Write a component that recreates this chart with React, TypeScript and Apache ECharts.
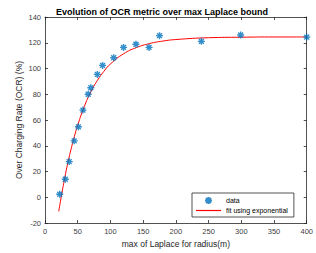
import React, { useEffect, useRef } from "react";
import * as echarts from "echarts";

const dataX = [22.5, 31, 37, 44.6, 51, 58, 66, 70, 80, 88, 105, 120, 139, 159, 175, 239, 299, 400];
const dataY = [2.3, 14, 27.7, 43.8, 54.7, 67.7, 80, 85, 95.4, 102.4, 108.4, 116.4, 118.8, 116.4, 125.5, 121.1, 126, 124.4];

const fitX = [21, 25, 30, 35, 40, 45, 50, 60, 70, 80, 90, 100, 120, 140, 160, 180, 200, 250, 300, 350, 400];
const fitY = [-11, 0.9, 14.6, 26.9, 37.7, 47.4, 56, 70.4, 81.8, 90.7, 97.8, 103.5, 111.4, 116.3, 119.4, 121.3, 122.5, 123.9, 124.3, 124.5, 124.5];

const TITLE = "Evolution of OCR metric over max Laplace bound";
const X_NAME = "max of Laplace for radius(m)";
const Y_NAME = "Over Charging Rate (OCR) (%)";

const STAR = "path://M0,-1L0,1M-1,0L1,0M-0.7,-0.7L0.7,0.7M-0.7,0.7L0.7,-0.7";
const LINE_ICON = "path://M0,0L25,0L25,1.2L0,1.2Z";

export default function App() {
  const ref = useRef<HTMLDivElement>(null);
  useEffect(() => {
    const chart = echarts.init(ref.current!, null, { renderer: "svg" });
    const font = "Liberation Sans, Arial, sans-serif";
    const axisCol = "#262626";
    const common = {
      axisLine: { show: true, onZero: false, lineStyle: { color: axisCol, width: 0.8 } },
      axisTick: { show: true, inside: true, length: 3, lineStyle: { color: axisCol, width: 0.8 } },
      splitLine: { show: false },
    };
    chart.setOption({
      animation: false,
      backgroundColor: "#fff",
      textStyle: { fontFamily: font },
      title: {
        text: TITLE,
        left: 51,
        top: 2,
        textStyle: { fontSize: 9, fontWeight: "bold", color: "#000", fontFamily: font },
      },
      grid: { left: 45, right: 5, top: 17, bottom: 30 },
      xAxis: [
        {
          type: "value", min: 0, max: 400, interval: 50, position: "bottom",
          name: X_NAME, nameLocation: "middle", nameGap: 16, nameMoveOverlap: false,
          nameTextStyle: { fontSize: 8.5, color: axisCol, fontFamily: font },
          axisLabel: { fontSize: 7.5, color: "#404040", margin: 4, fontFamily: font },
          ...common,
        },
        {
          type: "value", min: 0, max: 400, interval: 50, position: "top",
          axisLabel: { show: false }, ...common,
        },
      ],
      yAxis: [
        {
          type: "value", min: -20, max: 140, interval: 20, position: "left",
          name: Y_NAME, nameLocation: "middle", nameGap: 22, nameMoveOverlap: false,
          nameTextStyle: { fontSize: 8.5, color: axisCol, fontFamily: font },
          axisLabel: { fontSize: 7.5, color: "#404040", margin: 4, fontFamily: font },
          ...common,
        },
        {
          type: "value", min: -20, max: 140, interval: 20, position: "right",
          axisLabel: { show: false }, ...common,
        },
      ],
      legend: {
        left: 192, top: 193, orient: "vertical",
        itemWidth: 25, itemHeight: 7, itemGap: 2,
        padding: [3, 6, 3, 4],
        borderColor: axisCol, borderWidth: 0.8, backgroundColor: "#fff",
        symbolKeepAspect: true,
        textStyle: { fontSize: 7, color: "#000", fontFamily: font },
        data: [
          { name: "data", icon: STAR },
          { name: "fit using exponential", icon: LINE_ICON },
        ],
      },
      series: [
        {
          name: "fit using exponential",
          type: "line",
          data: fitX.map((x, i) => [x, fitY[i]]),
          symbol: "none",
          smooth: true,
          lineStyle: { color: "#ff0000", width: 1 },
          itemStyle: { color: "#ff0000" },
          z: 2,
        },
        {
          name: "data",
          type: "scatter",
          data: dataX.map((x, i) => [x, dataY[i]]),
          symbol: STAR,
          symbolSize: 7,
          itemStyle: { color: "#0072BD", borderColor: "#0072BD", borderWidth: 1.4 },
          z: 3,
        },
      ],
    });
    return () => chart.dispose();
  }, []);
  return <div ref={ref} style={{ width: 316, height: 253, position: "absolute", left: 0, top: 0 }} />;
}
